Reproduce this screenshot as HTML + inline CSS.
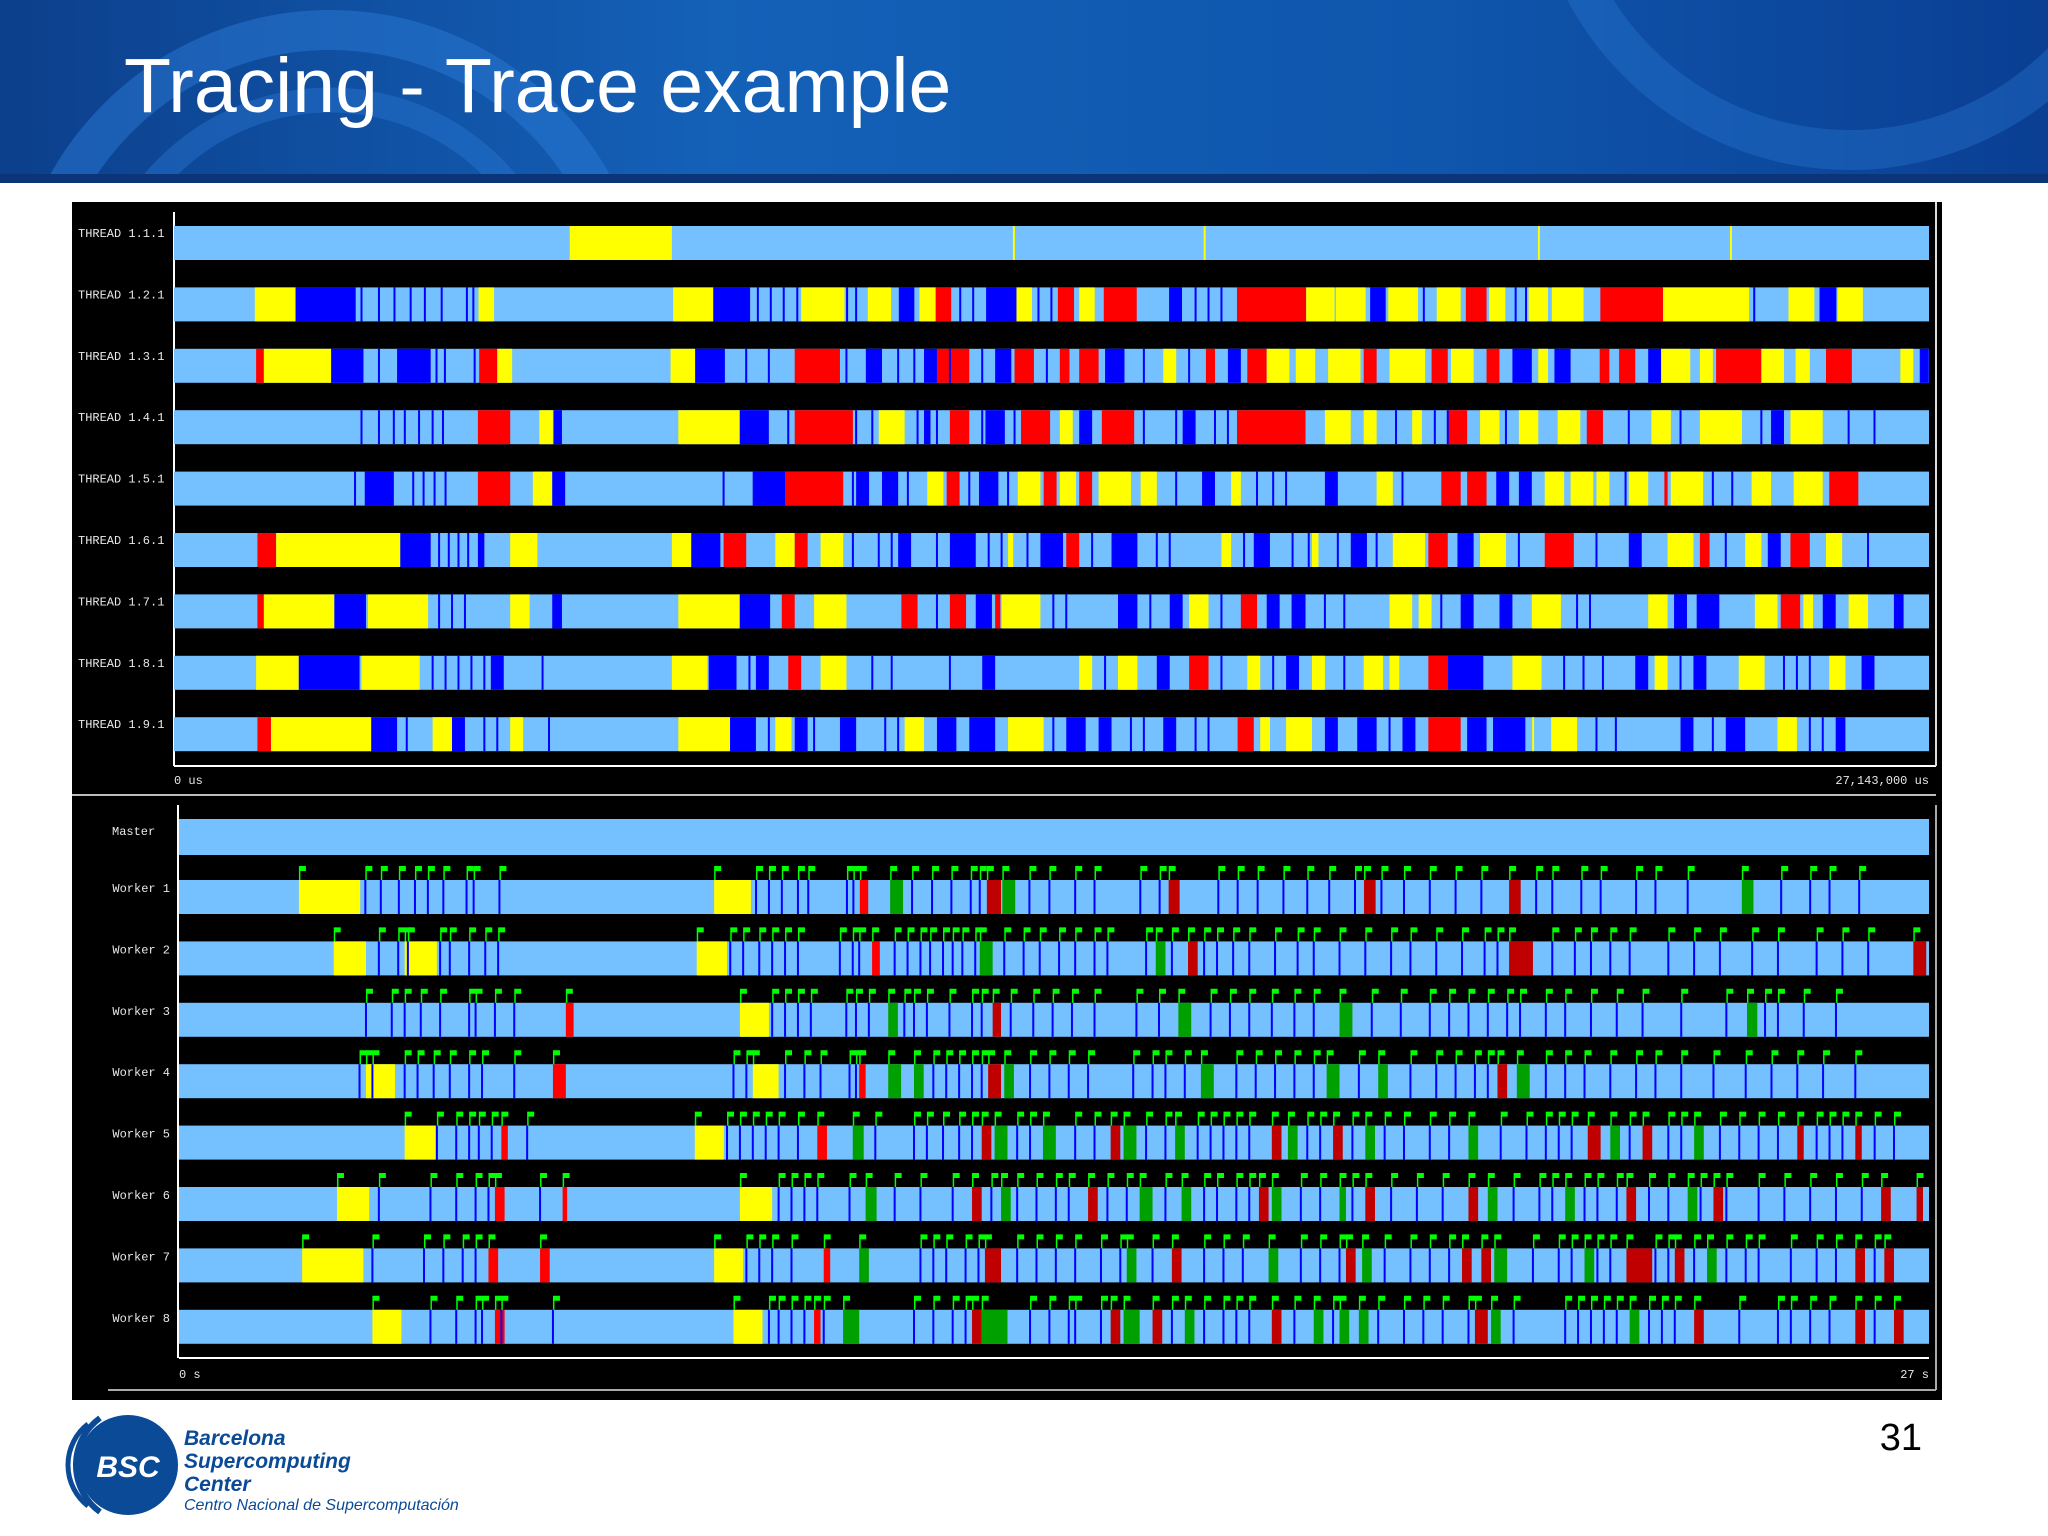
<!DOCTYPE html>
<html><head><meta charset="utf-8"><style>
html,body{margin:0;padding:0;background:#fff;width:2048px;height:1536px;overflow:hidden}
svg{display:block}
</style></head><body>
<svg id="s" width="2048" height="1536" xmlns="http://www.w3.org/2000/svg">
<defs>
<linearGradient id="hg" x1="0" y1="0" x2="1" y2="0">
<stop offset="0" stop-color="#0c3f8c"/><stop offset="0.35" stop-color="#1461b8"/><stop offset="0.7" stop-color="#0f56ad"/><stop offset="1" stop-color="#0a3f93"/>
</linearGradient>
<clipPath id="hc"><rect x="0" y="0" width="2048" height="183"/></clipPath>
</defs>
<g clip-path="url(#hc)">
<rect x="0" y="0" width="2048" height="183" fill="url(#hg)"/>
<circle cx="330" cy="330" r="300" fill="none" stroke="#2a7ad6" stroke-width="40" opacity="0.5"/>
<circle cx="330" cy="330" r="230" fill="none" stroke="#2a7ad6" stroke-width="25" opacity="0.4"/>
<circle cx="1850" cy="-150" r="300" fill="none" stroke="#2a7ad6" stroke-width="40" opacity="0.35"/>
<rect x="0" y="174" width="2048" height="9" fill="#0a3578"/>
</g>
<text x="124" y="112" font-family="Liberation Sans, sans-serif" font-size="77" fill="#fff">Tracing - Trace example</text>
<rect x="72" y="202" width="1870" height="1198" fill="#000"/>
<g id="chart"></g>
<g>
<path d="M 100 1418 A 58 58 0 0 0 100 1512" fill="none" stroke="#0b4a96" stroke-width="6"/>
<path d="M 88 1424 A 52 52 0 0 0 88 1506" fill="none" stroke="#0b4a96" stroke-width="5"/>
<circle cx="128" cy="1465" r="50" fill="#0b4a96"/>
<text x="128" y="1477" text-anchor="middle" font-family="Liberation Sans, sans-serif" font-weight="bold" font-style="italic" font-size="30" fill="#fff">BSC</text>
</g>
<g font-family="Liberation Sans, sans-serif" font-style="italic" fill="#0b4a96">
<text x="184" y="1445" font-size="21" font-weight="bold">Barcelona</text>
<text x="184" y="1468" font-size="21" font-weight="bold">Supercomputing</text>
<text x="184" y="1491" font-size="21" font-weight="bold">Center</text>
<text x="184" y="1510" font-size="16">Centro Nacional de Supercomputación</text>
</g>
<text x="1922" y="1450" text-anchor="end" font-family="Liberation Sans, sans-serif" font-size="38" fill="#000">31</text>
</svg>
<script>
const threadLabels=["THREAD 1.1.1","THREAD 1.2.1","THREAD 1.3.1","THREAD 1.4.1","THREAD 1.5.1","THREAD 1.6.1","THREAD 1.7.1","THREAD 1.8.1","THREAD 1.9.1"];
const workerLabels=["Worker 1","Worker 2","Worker 3","Worker 4","Worker 5","Worker 6","Worker 7","Worker 8"];
const topDuration=27.143;
const topTickLabels=["0 us","27,143,000 us"];
const botTickLabels=["0 s","27 s"];
const threadBlocks=[
[[6.12,7.70,"Y"]],
[[1.25,1.88,"Y"],[1.88,2.81,"B"],[4.71,4.95,"Y"],[7.72,8.34,"Y"],[8.34,8.91,"B"],[9.7,10.37,"Y"],[10.73,11.09,"Y"],[11.21,11.45,"B"],[11.53,11.78,"Y"],[11.78,12.02,"R"],[12.56,13.03,"B"],[13.03,13.27,"Y"],[13.67,13.92,"R"],[14.0,14.24,"Y"],[14.38,14.89,"R"],[15.39,15.59,"B"],[16.44,17.51,"R"],[17.51,17.95,"Y"],[17.97,18.43,"Y"],[18.5,18.74,"B"],[18.78,19.24,"Y"],[19.53,19.9,"Y"],[19.98,20.3,"R"],[20.34,20.59,"Y"],[20.95,21.25,"Y"],[21.31,21.8,"Y"],[22.06,23.03,"R"],[23.03,24.36,"Y"],[24.97,25.37,"Y"],[25.45,25.71,"B"],[25.73,26.12,"Y"]],
[[1.27,1.39,"R"],[1.39,2.43,"Y"],[2.43,2.93,"B"],[3.45,3.97,"B"],[4.72,5.0,"R"],[5.0,5.23,"Y"],[7.68,8.06,"Y"],[8.06,8.52,"B"],[9.6,10.3,"R"],[10.7,10.95,"B"],[11.6,11.8,"B"],[11.8,12.3,"R"],[12.7,12.95,"B"],[13.0,13.3,"R"],[13.7,13.85,"R"],[14.0,14.3,"R"],[14.4,14.7,"B"],[15.3,15.5,"Y"],[15.96,16.1,"R"],[16.3,16.5,"B"],[16.6,16.9,"R"],[16.9,17.25,"Y"],[17.35,17.65,"Y"],[17.85,18.35,"Y"],[18.4,18.6,"R"],[18.8,19.35,"Y"],[19.45,19.7,"R"],[19.75,20.1,"Y"],[20.3,20.5,"R"],[20.7,21.0,"B"],[21.1,21.25,"Y"],[21.35,21.6,"B"],[22.05,22.2,"R"],[22.35,22.6,"R"],[22.8,23.0,"B"],[23.0,23.45,"Y"],[23.6,23.8,"Y"],[23.85,24.55,"R"],[24.55,24.9,"Y"],[25.08,25.3,"Y"],[25.55,25.95,"R"],[26.7,26.9,"Y"],[27.0,27.14,"B"]],
[[4.7,5.2,"R"],[5.65,5.86,"Y"],[5.87,6.0,"B"],[7.8,8.75,"Y"],[8.75,9.2,"B"],[9.6,10.5,"R"],[10.9,11.3,"Y"],[11.6,11.7,"B"],[12.0,12.3,"R"],[12.55,12.85,"B"],[13.1,13.55,"R"],[13.7,13.9,"Y"],[14.0,14.2,"B"],[14.35,14.85,"R"],[15.6,15.8,"B"],[16.44,17.5,"R"],[17.8,18.2,"Y"],[18.4,18.6,"Y"],[19.15,19.3,"Y"],[19.7,20.0,"R"],[20.2,20.5,"Y"],[20.8,21.1,"Y"],[21.4,21.75,"Y"],[21.85,22.1,"R"],[22.85,23.15,"Y"],[23.6,24.25,"Y"],[24.7,24.9,"B"],[25.0,25.5,"Y"]],
[[2.95,3.4,"B"],[4.7,5.2,"R"],[5.55,5.85,"Y"],[5.85,6.05,"B"],[8.95,9.45,"B"],[9.45,10.35,"R"],[10.55,10.75,"B"],[10.95,11.2,"B"],[11.65,11.9,"Y"],[11.95,12.15,"R"],[12.45,12.75,"B"],[13.05,13.4,"Y"],[13.45,13.65,"R"],[13.7,13.95,"Y"],[14.0,14.2,"R"],[14.3,14.8,"Y"],[14.95,15.2,"Y"],[15.9,16.1,"B"],[16.35,16.5,"Y"],[17.8,18.0,"B"],[18.6,18.85,"Y"],[19.6,19.9,"R"],[20.0,20.3,"R"],[20.45,20.65,"B"],[20.8,21.0,"B"],[21.2,21.5,"Y"],[21.6,21.95,"Y"],[22.0,22.2,"Y"],[22.5,22.8,"Y"],[23.05,23.1,"R"],[23.15,23.65,"Y"],[24.4,24.7,"Y"],[25.05,25.5,"Y"],[25.6,26.05,"R"]],
[[1.29,1.58,"R"],[1.58,3.5,"Y"],[3.5,3.97,"B"],[4.7,4.8,"B"],[5.2,5.62,"Y"],[7.7,8.0,"Y"],[8.0,8.45,"B"],[8.5,8.85,"R"],[9.3,9.6,"Y"],[9.6,9.8,"R"],[10.0,10.35,"Y"],[11.2,11.4,"B"],[12.0,12.4,"B"],[12.9,12.98,"Y"],[13.4,13.75,"B"],[13.8,14.0,"R"],[14.5,14.9,"B"],[16.2,16.35,"Y"],[16.7,16.95,"B"],[17.6,17.7,"Y"],[18.2,18.45,"B"],[18.85,19.35,"Y"],[19.4,19.7,"R"],[19.85,20.1,"B"],[20.2,20.6,"Y"],[21.2,21.65,"R"],[22.5,22.7,"B"],[23.1,23.5,"Y"],[23.6,23.75,"R"],[24.3,24.55,"Y"],[24.65,24.85,"B"],[25.0,25.3,"R"],[25.55,25.8,"Y"]],
[[1.29,1.39,"R"],[1.39,2.48,"Y"],[2.48,2.97,"B"],[3.0,3.93,"Y"],[5.2,5.5,"Y"],[5.85,6.0,"B"],[7.8,8.75,"Y"],[8.75,9.22,"B"],[9.4,9.6,"R"],[9.9,10.4,"Y"],[11.25,11.5,"R"],[12.0,12.25,"R"],[12.4,12.65,"B"],[12.7,12.78,"R"],[12.8,13.4,"Y"],[14.6,14.9,"B"],[15.4,15.6,"B"],[15.7,16.0,"Y"],[16.5,16.75,"R"],[16.9,17.1,"B"],[17.3,17.5,"B"],[18.8,19.15,"Y"],[19.25,19.45,"Y"],[19.9,20.1,"B"],[20.5,20.7,"B"],[21.0,21.45,"Y"],[22.8,23.1,"Y"],[23.2,23.4,"B"],[23.55,23.9,"B"],[24.45,24.8,"Y"],[24.85,25.15,"R"],[25.2,25.35,"Y"],[25.5,25.7,"B"],[25.9,26.2,"Y"],[26.6,26.75,"B"]],
[[1.27,1.93,"Y"],[1.93,2.87,"B"],[2.9,3.8,"Y"],[4.9,5.1,"B"],[7.7,8.25,"Y"],[8.27,8.7,"B"],[9.0,9.2,"B"],[9.5,9.7,"R"],[10.0,10.4,"Y"],[12.5,12.7,"B"],[14.0,14.2,"Y"],[14.6,14.9,"Y"],[15.2,15.4,"B"],[15.7,16.0,"R"],[16.6,16.8,"Y"],[17.2,17.4,"B"],[17.6,17.8,"Y"],[18.4,18.7,"Y"],[18.8,18.95,"Y"],[19.4,19.7,"R"],[19.7,20.25,"B"],[20.7,21.15,"Y"],[22.6,22.8,"B"],[22.9,23.1,"Y"],[23.5,23.7,"B"],[24.2,24.6,"Y"],[25.6,25.85,"Y"],[26.1,26.3,"B"]],
[[1.29,1.5,"R"],[1.5,3.05,"Y"],[3.05,3.45,"B"],[4.0,4.3,"Y"],[4.3,4.5,"B"],[5.2,5.4,"Y"],[7.8,8.6,"Y"],[8.6,9.0,"B"],[9.3,9.55,"Y"],[9.6,9.8,"B"],[10.3,10.55,"B"],[11.3,11.6,"Y"],[11.8,12.1,"B"],[12.3,12.7,"B"],[12.9,13.45,"Y"],[13.8,14.1,"B"],[14.3,14.5,"B"],[15.3,15.5,"B"],[16.45,16.7,"R"],[16.8,16.95,"Y"],[17.2,17.6,"Y"],[17.8,18.0,"B"],[18.3,18.6,"B"],[19.0,19.2,"B"],[19.4,19.9,"R"],[20.0,20.3,"B"],[20.4,20.9,"B"],[21.3,21.7,"Y"],[23.3,23.5,"B"],[24.0,24.3,"B"],[24.8,25.1,"Y"],[25.7,25.85,"B"]]
];
const threadThinYellow=[[12.99,15.94,21.11,24.08],[],[],[],[],[],[],[],[21.02]];
const threadThin=[
[],
[2.9,3.17,3.41,3.66,3.88,4.14,4.53,4.63,9.03,9.23,9.43,9.64,10.41,10.55,12.16,12.36,13.37,13.57,15.8,16.0,16.2,19.33,20.75,20.91,24.44],
[3.17,4.06,4.19,4.65,8.85,9.2,10.4,11.2,11.45,12.0,12.5,13.5,15.0,15.7],
[2.9,3.17,3.4,3.57,3.79,4.0,4.16,9.5,10.55,10.8,11.5,11.8,12.5,13.0,15.0,15.5,16.1,16.3,18.9,19.5,19.7,20.6,22.5,23.3,24.55,25.9,26.3],
[2.8,3.7,3.86,4.03,4.2,8.5,10.5,11.35,12.3,12.9,15.5,16.75,17.0,17.2,19.0,22.45,23.8,24.1],
[4.1,4.25,4.4,4.55,10.5,10.9,11.1,11.8,12.6,12.8,13.2,14.2,15.2,15.4,16.55,17.3,17.55,18.0,18.6,20.8,22.0,24.0,26.2],
[4.1,4.3,4.5,11.8,13.6,13.8,15.1,16.2,17.3,17.8,18.1,19.6,21.7,21.9],
[4.0,4.2,4.4,4.6,4.8,5.7,8.9,10.8,11.1,12.0,14.4,16.2,17.0,18.1,21.5,21.8,22.1,23.3,24.9,25.1,25.3],
[3.6,4.8,5.0,5.8,9.2,9.9,11.0,11.2,13.6,14.8,15.0,15.8,16.0,18.8,22.0,22.3,23.8,25.3,25.5]
];
const workerBlocks=[
[[1.86,2.81,"Y"],[8.3,8.87,"Y"],[10.56,10.69,"R"],[11.03,11.23,"G"],[12.53,12.75,"D"],[12.77,12.97,"G"],[15.35,15.52,"D"],[18.38,18.56,"D"],[20.63,20.81,"D"],[24.24,24.42,"G"]],
[[2.4,2.9,"Y"],[3.5,4.0,"Y"],[8.03,8.5,"Y"],[10.75,10.87,"R"],[12.42,12.62,"G"],[15.15,15.3,"G"],[15.65,15.8,"D"],[20.63,21.0,"D"],[26.9,27.1,"D"]],
[[6.0,6.12,"R"],[8.7,9.15,"Y"],[11.0,11.15,"G"],[12.62,12.75,"D"],[15.5,15.7,"G"],[18.0,18.2,"G"],[24.32,24.48,"G"]],
[[2.9,3.35,"Y"],[5.8,6.0,"R"],[8.9,9.3,"Y"],[10.55,10.65,"R"],[11.0,11.2,"G"],[11.4,11.55,"G"],[12.55,12.75,"D"],[12.8,12.95,"G"],[15.85,16.05,"G"],[17.8,18.0,"G"],[18.6,18.75,"G"],[20.45,20.6,"D"],[20.75,20.95,"G"]],
[[3.5,3.98,"Y"],[5.0,5.1,"R"],[8.0,8.45,"Y"],[9.9,10.05,"R"],[10.45,10.62,"G"],[12.45,12.6,"D"],[12.65,12.85,"G"],[13.4,13.6,"G"],[14.45,14.6,"D"],[14.65,14.85,"G"],[15.45,15.6,"G"],[16.95,17.1,"D"],[17.2,17.35,"G"],[17.9,18.05,"D"],[18.4,18.55,"G"],[20.0,20.15,"G"],[21.85,22.05,"D"],[22.2,22.35,"G"],[22.7,22.85,"D"],[23.5,23.65,"G"],[25.1,25.2,"D"],[26.0,26.1,"D"]],
[[2.45,2.95,"Y"],[4.9,5.05,"R"],[5.95,6.02,"R"],[8.7,9.2,"Y"],[10.65,10.82,"G"],[12.3,12.45,"D"],[12.75,12.9,"G"],[14.1,14.25,"D"],[14.9,15.1,"G"],[15.55,15.7,"G"],[16.75,16.9,"D"],[16.95,17.1,"G"],[18.0,18.1,"G"],[18.4,18.55,"D"],[20.0,20.15,"D"],[20.3,20.45,"G"],[21.5,21.65,"G"],[22.45,22.6,"D"],[23.4,23.55,"G"],[23.8,23.95,"D"],[26.4,26.55,"D"],[26.95,27.05,"D"]],
[[1.91,2.86,"Y"],[4.8,4.95,"R"],[5.6,5.75,"R"],[8.3,8.75,"Y"],[10.0,10.1,"R"],[10.55,10.7,"G"],[12.5,12.75,"D"],[14.7,14.85,"G"],[15.4,15.55,"D"],[16.9,17.05,"G"],[18.1,18.25,"D"],[18.35,18.5,"G"],[19.9,20.05,"D"],[20.2,20.35,"D"],[20.4,20.6,"G"],[21.8,21.95,"G"],[22.45,22.85,"D"],[23.2,23.35,"D"],[23.7,23.85,"G"],[26.0,26.15,"D"],[26.45,26.6,"D"]],
[[3.0,3.45,"Y"],[4.9,5.05,"R"],[8.6,9.05,"Y"],[9.85,9.95,"R"],[10.3,10.55,"G"],[12.3,12.45,"D"],[12.45,12.85,"G"],[14.45,14.6,"D"],[14.65,14.9,"G"],[15.1,15.25,"D"],[15.6,15.75,"G"],[16.95,17.1,"D"],[17.6,17.75,"G"],[18.0,18.15,"G"],[18.3,18.45,"G"],[20.1,20.3,"D"],[20.35,20.5,"G"],[22.5,22.65,"G"],[23.5,23.65,"D"],[26.0,26.15,"D"],[26.6,26.75,"D"]]
];
const workerThin=[
[2.89,3.13,3.41,3.66,3.86,4.1,4.46,4.57,4.97,8.95,9.15,9.35,9.6,9.76,10.36,10.46,11.37,11.68,11.98,12.28,12.42,13.19,13.5,13.9,14.2,14.91,15.21,16.12,16.42,16.73,17.13,17.5,17.84,18.24,18.65,19.0,19.4,19.8,20.2,21.05,21.3,21.75,22.05,22.6,22.9,23.4,24.85,25.3,25.6,26.06],
[3.1,3.4,3.55,4.05,4.2,4.5,4.75,4.95,8.55,8.75,9.0,9.2,9.4,9.6,10.25,10.45,10.55,11.1,11.3,11.5,11.65,11.85,12.0,12.15,12.35,12.8,13.1,13.35,13.65,13.9,14.2,14.4,15.0,15.4,15.9,16.1,16.35,16.6,17.0,17.35,17.6,18.0,18.4,18.8,19.1,19.5,19.9,20.25,20.45,21.3,21.65,21.9,22.2,22.5,23.1,23.5,23.9,24.4,24.8,25.4,25.8,26.2],
[2.9,3.3,3.5,3.75,4.05,4.5,4.6,4.9,5.2,9.2,9.4,9.6,9.8,10.35,10.5,10.7,11.25,11.4,11.6,11.95,12.3,12.45,12.9,13.25,13.55,13.85,14.2,14.85,15.2,16.0,16.3,16.6,16.95,17.3,17.6,18.5,18.95,19.4,19.7,20.0,20.3,20.6,20.8,21.2,21.5,21.9,22.3,22.7,23.3,24.0,24.6,24.8,25.2,25.7],
[2.8,3.0,3.5,3.7,3.95,4.2,4.5,4.7,5.2,8.6,8.8,9.4,9.7,9.95,10.4,10.5,11.7,11.9,12.1,12.3,12.45,13.2,13.5,13.8,14.1,14.8,15.1,15.3,15.6,16.4,16.7,17.0,17.3,17.6,18.3,19.1,19.5,19.8,20.1,20.3,21.2,21.5,21.8,22.2,22.6,22.9,23.3,23.8,24.3,24.7,25.1,25.5,26.0],
[4.0,4.3,4.5,4.65,4.85,5.4,8.5,8.7,8.9,9.1,9.3,9.6,10.8,11.4,11.6,11.85,12.1,12.3,13.0,13.2,13.9,14.2,15.0,15.3,15.8,16.0,16.2,16.4,16.6,17.5,17.7,18.2,18.7,19.0,19.4,19.7,20.5,20.9,21.2,21.4,21.6,22.5,23.1,23.3,23.9,24.2,24.5,24.8,25.4,25.6,25.8,26.3,26.6],
[3.1,3.9,4.3,4.6,4.8,5.6,9.3,9.5,9.7,9.9,10.4,11.1,11.5,12.0,12.6,13.0,13.3,13.6,13.8,14.4,14.7,15.3,15.9,16.1,16.4,16.6,17.4,17.7,18.2,18.8,19.2,19.6,20.7,21.1,21.3,21.8,22.0,22.3,22.8,23.1,23.6,24.0,24.5,24.9,25.3,25.7,26.1],
[3.0,3.8,4.1,4.4,4.6,8.8,9.0,9.2,9.5,11.5,11.7,11.9,12.2,12.4,13.0,13.3,13.6,13.9,14.3,14.6,15.1,15.9,16.2,16.5,17.4,17.7,18.0,18.7,19.1,19.4,19.7,21.0,21.4,21.6,22.0,22.2,22.9,23.1,23.5,24.0,24.3,24.5,25.0,25.4,25.7,26.3],
[3.9,4.3,4.6,4.7,5.0,5.8,9.15,9.3,9.5,9.7,10.0,11.4,11.7,12.0,12.2,13.2,13.5,13.8,13.9,14.3,15.4,15.9,16.2,16.4,16.6,17.3,17.9,18.6,19.0,19.3,19.6,20.0,20.7,21.5,21.7,21.9,22.1,22.3,22.8,23.0,23.2,24.2,24.8,25.0,25.3,25.6,26.3]
];
const colors={Y:"#ffff00",B:"#0000ff",R:"#ff0000",G:"#00a000",D:"#c00000",L:"#75c0ff"};
const NS="http://www.w3.org/2000/svg";
const g=document.getElementById("chart");
function mk(tag,attrs,parent){const e=document.createElementNS(NS,tag);for(const k in attrs)e.setAttribute(k,attrs[k]);(parent||g).appendChild(e);return e;}
const TX0=174,TX1=1929,BX0=179,BX1=1929;
function xT(t){return TX0+t/topDuration*(TX1-TX0);}
function xB(t){return BX0+t/topDuration*(BX1-BX0);}
function yT(i){return 226+i*61.4;}
function yB(i){return 880+i*61.4;}
const H=34;
let a=mk("line",{x1:TX0,y1:212,x2:TX0,y2:766,stroke:"#fff","stroke-width":2});

a=mk("line",{x1:TX0,y1:766,x2:1936,y2:766,stroke:"#fff","stroke-width":2});

a=mk("line",{x1:1936,y1:202,x2:1936,y2:766,stroke:"#ddd","stroke-width":2});

a=mk("line",{x1:72,y1:795,x2:1936,y2:795,stroke:"#bbb","stroke-width":2});

a=mk("line",{x1:BX0-1,y1:805,x2:BX0-1,y2:1358,stroke:"#fff","stroke-width":2});

a=mk("line",{x1:BX0,y1:1358,x2:BX1,y2:1358,stroke:"#fff","stroke-width":2});

a=mk("line",{x1:108,y1:1390,x2:1936,y2:1390,stroke:"#aaa","stroke-width":2});

a=mk("line",{x1:1936,y1:805,x2:1936,y2:1390,stroke:"#aaa","stroke-width":2});

function txt(x,y,s,anchor,name){const t=mk("text",{x:x,y:y,"font-family":"Liberation Mono, monospace","font-size":12,fill:"#e8e8e8","text-anchor":anchor});t.textContent=s;

return t;}
txt(TX0,784,topTickLabels[0],"start","top-x-tick-start");
txt(TX1,784,topTickLabels[1],"end","top-x-tick-end");
txt(BX0,1378,botTickLabels[0],"start","bottom-x-tick-start");
txt(BX1,1378,botTickLabels[1],"end","bottom-x-tick-end");
function row(y,x0,x1,blocks,thin,thinY,xf,name){
  const r=mk("g",{});
  
  
  mk("rect",{x:x0,y:y,width:x1-x0,height:H,fill:colors.L},r);
  blocks.forEach(b=>{const xa=xf(b[0]),xb=xf(b[1]);
    const e=mk("rect",{x:xa,y:y,width:Math.max(2,xb-xa),height:H,fill:colors[b[2]]},r);
    
    });
  thin.forEach(t=>{const e=mk("rect",{x:xf(t)-1,y:y,width:2,height:H,fill:colors.B},r);
    
    });
  (thinY||[]).forEach(t=>{const e=mk("rect",{x:xf(t)-1,y:y,width:2,height:H,fill:colors.Y},r);
    
    });
  return r;
}
threadLabels.forEach((l,i)=>{
  row(yT(i),TX0,TX1,threadBlocks[i],threadThin[i],threadThinYellow[i],xT,'thread-row-'+(i+1));
  txt(78,yT(i)+11,l,"start",'thread-label-'+(i+1));
});
let m=mk("rect",{x:BX0,y:819,width:BX1-BX0,height:36,fill:colors.L});

txt(112,835,"Master","start","master-label");
workerLabels.forEach((l,i)=>{
  const y=yB(i);
  const r=row(y,BX0,BX1,workerBlocks[i],workerThin[i],[],xB,'worker-row-'+(i+1));
  const ev=workerThin[i].concat(workerBlocks[i].map(b=>b[0]));
  ev.forEach(t=>{const x=xB(t);
    const f=mk("path",{d:`M${x} ${y} L${x} ${y-14} L${x+7} ${y-14} L${x+7} ${y-9} L${x+1.5} ${y-9} L${x+1.5} ${y}Z`,fill:"#00ff00"},r);
    
    });
  txt(170,y+12,l,"end",'worker-label-'+(i+1));
});
</script>
</body></html>
